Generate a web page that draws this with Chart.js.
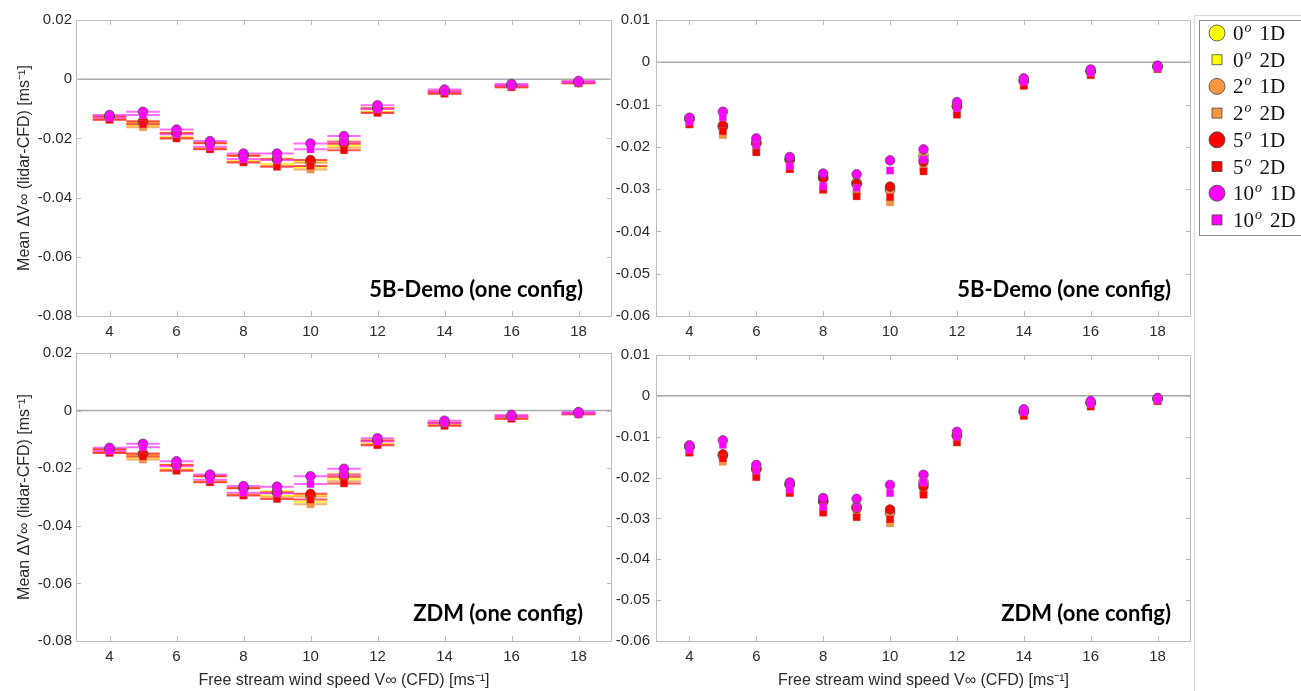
<!DOCTYPE html>
<html>
<head>
<meta charset="utf-8">
<script src="https://cdn.jsdelivr.net/npm/chart.js@4/dist/chart.umd.min.js"></script>
<style>
body{margin:0;background:#fff;width:1301px;height:691px;overflow:hidden;position:relative}
canvas{position:absolute}
</style>
</head>
<body>
<canvas id="demoMean" width="620" height="346" style="left:0;top:0"></canvas>
<canvas id="demoRight" width="691" height="346" style="left:610px;top:0"></canvas>
<canvas id="zdmMean" width="620" height="351" style="left:0;top:340px"></canvas>
<canvas id="zdmRight" width="691" height="351" style="left:610px;top:340px"></canvas>
<script>
// wind speed bins (x) and axis ticks
const windSpeeds = [4, 5, 6, 7, 8, 9, 10, 11, 12, 14, 16, 18];
const xTicks = [4, 6, 8, 10, 12, 14, 16, 18];
const yTicksLeft = [-0.08, -0.06, -0.04, -0.02, 0, 0.02];
const yTicksRight = [-0.06, -0.05, -0.04, -0.03, -0.02, -0.01, 0, 0.01];
const binHalfWidth = 0.5;

// series: yaw angle + 1D/2D
const seriesAngles = ['0', '0', '2', '2', '5', '5', '10', '10'];
const seriesKinds = ['1D', '2D', '1D', '2D', '1D', '2D', '1D', '2D'];
const seriesShapes = ['circle', 'rect', 'circle', 'rect', 'circle', 'rect', 'circle', 'rect'];
const seriesColors = ['#FFFF00', '#FFFF00', '#F8963F', '#F8963F', '#FF0000', '#FF0000', '#FF00FF', '#FF00FF'];
const barColors = ['rgba(255,240,0,0.75)', 'rgba(255,240,0,0.75)', 'rgba(248,150,63,0.75)', 'rgba(248,150,63,0.75)',
  'rgba(255,30,30,0.75)', 'rgba(255,30,30,0.75)', 'rgba(255,60,255,0.75)', 'rgba(255,60,255,0.75)'];

// 5B-Demo, mean (top left) - rows follow series order
const demoMean = [
  [-0.0125, -0.0145, -0.0181, -0.0214, -0.0257, -0.0268, -0.0279, -0.0208, -0.0097, -0.0040, -0.0020, -0.0009],
  [-0.0134, -0.0157, -0.0196, -0.0233, -0.0277, -0.0286, -0.0298, -0.0225, -0.0110, -0.0046, -0.0025, -0.0013],
  [-0.0126, -0.0147, -0.0182, -0.0215, -0.0258, -0.0270, -0.0282, -0.0213, -0.0098, -0.0041, -0.0021, -0.0009],
  [-0.0136, -0.0162, -0.0198, -0.0235, -0.0279, -0.0292, -0.0305, -0.0232, -0.0112, -0.0048, -0.0027, -0.0014],
  [-0.0126, -0.0142, -0.0183, -0.0216, -0.0259, -0.0271, -0.0273, -0.0218, -0.0099, -0.0042, -0.0021, -0.0010],
  [-0.0137, -0.0152, -0.0200, -0.0237, -0.0281, -0.0296, -0.0293, -0.0240, -0.0114, -0.0049, -0.0027, -0.0014],
  [-0.0121, -0.0110, -0.0170, -0.0209, -0.0251, -0.0251, -0.0217, -0.0192, -0.0088, -0.0035, -0.0016, -0.0006],
  [-0.0130, -0.0121, -0.0186, -0.0228, -0.0270, -0.0273, -0.0237, -0.0211, -0.0101, -0.0042, -0.0022, -0.0011]
];

// 5B-Demo (top right)
const demoRight = [
  [-0.0133, -0.0152, -0.0190, -0.0229, -0.0272, -0.0283, -0.0299, -0.0220, -0.0103, -0.0043, -0.0021, -0.0010],
  [-0.0145, -0.0166, -0.0208, -0.0250, -0.0300, -0.0305, -0.0326, -0.0242, -0.0118, -0.0052, -0.0029, -0.0015],
  [-0.0134, -0.0153, -0.0191, -0.0230, -0.0273, -0.0287, -0.0302, -0.0228, -0.0104, -0.0044, -0.0022, -0.0010],
  [-0.0146, -0.0172, -0.0210, -0.0252, -0.0302, -0.0312, -0.0331, -0.0250, -0.0122, -0.0054, -0.0031, -0.0016],
  [-0.0134, -0.0149, -0.0192, -0.0231, -0.0274, -0.0288, -0.0294, -0.0235, -0.0105, -0.0045, -0.0022, -0.0011],
  [-0.0147, -0.0163, -0.0213, -0.0253, -0.0301, -0.0317, -0.0319, -0.0258, -0.0124, -0.0056, -0.0030, -0.0016],
  [-0.0131, -0.0117, -0.0180, -0.0224, -0.0263, -0.0265, -0.0232, -0.0206, -0.0094, -0.0038, -0.0017, -0.0008],
  [-0.0141, -0.0130, -0.0196, -0.0245, -0.0293, -0.0297, -0.0256, -0.0230, -0.0108, -0.0046, -0.0025, -0.0013]
];

// ZDM, mean (bottom left)
const zdmMean = [
  [-0.0133, -0.0152, -0.0188, -0.0226, -0.0268, -0.0280, -0.0295, -0.0219, -0.0103, -0.0041, -0.0019, -0.0008],
  [-0.0144, -0.0164, -0.0203, -0.0245, -0.0290, -0.0296, -0.0317, -0.0237, -0.0116, -0.0049, -0.0026, -0.0012],
  [-0.0134, -0.0153, -0.0189, -0.0227, -0.0269, -0.0283, -0.0298, -0.0224, -0.0104, -0.0042, -0.0020, -0.0008],
  [-0.0145, -0.0170, -0.0206, -0.0247, -0.0292, -0.0301, -0.0325, -0.0245, -0.0118, -0.0051, -0.0028, -0.0013],
  [-0.0134, -0.0149, -0.0190, -0.0228, -0.0270, -0.0285, -0.0289, -0.0230, -0.0105, -0.0043, -0.0020, -0.0009],
  [-0.0147, -0.0159, -0.0209, -0.0249, -0.0295, -0.0307, -0.0309, -0.0253, -0.0120, -0.0053, -0.0028, -0.0013],
  [-0.0129, -0.0115, -0.0176, -0.0222, -0.0262, -0.0264, -0.0228, -0.0202, -0.0096, -0.0035, -0.0015, -0.0005],
  [-0.0140, -0.0127, -0.0193, -0.0240, -0.0285, -0.0287, -0.0255, -0.0222, -0.0107, -0.0044, -0.0022, -0.0011]
];

// ZDM (bottom right)
const zdmRight = [
  [-0.0124, -0.0146, -0.0178, -0.0216, -0.0257, -0.0270, -0.0284, -0.0210, -0.0096, -0.0038, -0.0017, -0.0007],
  [-0.0137, -0.0157, -0.0194, -0.0234, -0.0282, -0.0285, -0.0305, -0.0228, -0.0110, -0.0046, -0.0024, -0.0012],
  [-0.0125, -0.0147, -0.0179, -0.0217, -0.0258, -0.0273, -0.0287, -0.0216, -0.0097, -0.0039, -0.0018, -0.0007],
  [-0.0138, -0.0161, -0.0196, -0.0236, -0.0284, -0.0290, -0.0312, -0.0236, -0.0113, -0.0048, -0.0026, -0.0013],
  [-0.0125, -0.0143, -0.0180, -0.0218, -0.0259, -0.0275, -0.0278, -0.0222, -0.0098, -0.0040, -0.0018, -0.0008],
  [-0.0139, -0.0153, -0.0199, -0.0238, -0.0286, -0.0297, -0.0302, -0.0242, -0.0114, -0.0049, -0.0026, -0.0013],
  [-0.0121, -0.0109, -0.0169, -0.0212, -0.0250, -0.0252, -0.0218, -0.0193, -0.0088, -0.0033, -0.0013, -0.0005],
  [-0.0132, -0.0120, -0.0183, -0.0229, -0.0272, -0.0274, -0.0238, -0.0212, -0.0100, -0.0040, -0.0020, -0.0010]
];

const sansFamily = '"Liberation Sans", Arial, sans-serif';
const axisColor = '#2b2b2b';

// box, inward ticks, zero line, panel note, legend
const matlabAxes = {
  id: 'matlabAxes',
  beforeDatasetsDraw(chart) {
    const {ctx, chartArea: a, scales: {y}} = chart;
    const y0 = y.getPixelForValue(0);
    ctx.save();
    ctx.strokeStyle = '#a8a8a8';
    ctx.lineWidth = 1.5;
    ctx.beginPath();
    ctx.moveTo(a.left, y0);
    ctx.lineTo(a.right, y0);
    ctx.stroke();
    ctx.restore();
  },
  afterDraw(chart, args, opts) {
    const {ctx, chartArea: a, scales: {x, y}} = chart;
    ctx.save();
    ctx.strokeStyle = '#bcbcbc';
    ctx.lineWidth = 1;
    ctx.strokeRect(a.left + 0.5, a.top + 0.5, a.right - a.left - 1, a.bottom - a.top);
    ctx.beginPath();
    x.ticks.forEach(t => {
      const px = Math.round(x.getPixelForValue(t.value)) + 0.5;
      ctx.moveTo(px, a.bottom); ctx.lineTo(px, a.bottom - 5);
      ctx.moveTo(px, a.top); ctx.lineTo(px, a.top + 5);
    });
    y.ticks.forEach(t => {
      const py = Math.round(y.getPixelForValue(t.value)) + 0.5;
      ctx.moveTo(a.left, py); ctx.lineTo(a.left + 5, py);
      ctx.moveTo(a.right, py); ctx.lineTo(a.right - 5, py);
    });
    ctx.stroke();

    ctx.fillStyle = '#000';
    ctx.font = 'bold 22px Lato, "Open Sans", sans-serif';
    ctx.textAlign = 'right';
    ctx.textBaseline = 'middle';
    ctx.fillText(opts.note, a.right - opts.noteRight, a.bottom - opts.noteUp);

    if (opts.frame) {
      const f = opts.frame;
      ctx.strokeStyle = '#d6d6d6';
      ctx.lineWidth = 1;
      ctx.beginPath();
      ctx.moveTo(f.x + 0.5, f.top);
      ctx.lineTo(f.x + 0.5, chart.height);
      if (f.drawTop) {
        ctx.moveTo(f.x, f.top + 0.5);
        ctx.lineTo(chart.width, f.top + 0.5);
      }
      ctx.stroke();
    }

    if (opts.legend) {
      const L = opts.legend;
      ctx.fillStyle = '#fff';
      ctx.fillRect(L.x, L.y, L.w, L.h);
      ctx.strokeStyle = '#8a8a8a';
      ctx.strokeRect(L.x + 0.5, L.y + 0.5, L.w, L.h);
      seriesAngles.forEach((ang, i) => {
        const cy = L.rowTop + i * L.rowStep;
        ctx.fillStyle = seriesColors[i];
        ctx.strokeStyle = 'rgba(70,70,70,0.8)';
        ctx.lineWidth = 1;
        ctx.beginPath();
        if (seriesShapes[i] === 'circle') {
          ctx.arc(L.markerX, cy, 8, 0, Math.PI * 2);
        } else {
          ctx.rect(L.markerX - 5, cy - 5, 10, 10);
        }
        ctx.fill();
        ctx.stroke();
        ctx.fillStyle = '#111';
        ctx.textAlign = 'left';
        ctx.textBaseline = 'alphabetic';
        ctx.font = '21px "Liberation Serif", "DejaVu Serif", serif';
        const base = cy + 7;
        ctx.fillText(ang, L.textX, base);
        let tx = L.textX + ctx.measureText(ang).width + 1;
        ctx.font = 'italic 14px "Liberation Serif", "DejaVu Serif", serif';
        ctx.fillText('o', tx, base - 8);
        tx += ctx.measureText('o').width + 8;
        ctx.font = '21px "Liberation Serif", "DejaVu Serif", serif';
        ctx.fillText(seriesKinds[i], tx, base);
      });
    }
    ctx.restore();
  }
};

function buildDatasets(values, withBars) {
  const sets = [];
  values.forEach((row, i) => {
    const isCircle = seriesShapes[i] === 'circle';
    sets.push({
      type: 'scatter',
      data: windSpeeds.map((x, k) => ({x: x, y: row[k]})),
      pointStyle: seriesShapes[i],
      pointRadius: isCircle ? 4.8 : 5.2,
      backgroundColor: seriesColors[i],
      borderColor: isCircle ? 'rgba(70,70,70,0.75)' : 'rgba(150,150,150,0.5)',
      borderWidth: isCircle ? 0.9 : 0.6,
      order: values.length - i
    });
    if (withBars) {
      sets.push({
        type: 'line',
        data: windSpeeds.flatMap((x, k) => [
          {x: x - binHalfWidth, y: row[k]},
          {x: x + binHalfWidth, y: row[k]},
          {x: x, y: null}
        ]),
        borderColor: barColors[i],
        borderWidth: 2,
        pointRadius: 0,
        showLine: true,
        spanGaps: false,
        order: 20 + values.length - i
      });
    }
  });
  return sets;
}

function makePanel(id, values, cfg) {
  new Chart(document.getElementById(id), {
    type: 'scatter',
    data: {datasets: buildDatasets(values, cfg.bars)},
    options: {
      responsive: false,
      animation: false,
      events: [],
      layout: {padding: cfg.padding},
      plugins: {
        legend: {display: false},
        tooltip: {enabled: false},
        matlabAxes: {note: cfg.note, noteRight: cfg.noteRight, noteUp: cfg.noteUp,
          legend: cfg.legend, frame: cfg.frame}
      },
      scales: {
        x: {
          type: 'linear',
          min: 3,
          max: 19,
          grid: {display: false, drawTicks: false},
          border: {display: false},
          afterBuildTicks: s => { s.ticks = xTicks.map(v => ({value: v})); },
          afterFit: s => { s.height = cfg.xHeight; },
          ticks: {font: {family: sansFamily, size: 15}, color: axisColor, padding: 7,
            maxRotation: 0, autoSkip: false},
          title: {
            display: cfg.xTitle,
            text: 'Free stream wind speed V\u221E (CFD) [ms\u207B\u00B9]',
            font: {family: sansFamily, size: 16},
            color: axisColor,
            padding: {top: 0, bottom: 1}
          }
        },
        y: {
          min: cfg.yTicks[0],
          max: cfg.yTicks[cfg.yTicks.length - 1],
          grid: {display: false, drawTicks: false},
          border: {display: false},
          afterBuildTicks: s => { s.ticks = cfg.yTicks.map(v => ({value: v})); },
          afterFit: s => { s.width = cfg.yWidth; },
          ticks: {font: {family: sansFamily, size: 15}, color: axisColor, padding: cfg.yPad,
            callback: v => v === 0 ? '0' : v.toFixed(2)},
          title: {
            display: cfg.yTitle,
            text: 'Mean \u0394V\u221E (lidar-CFD) [ms\u207B\u00B9]',
            font: {family: sansFamily, size: 16},
            color: axisColor,
            padding: {top: 15, bottom: 0}
          }
        }
      }
    },
    plugins: [matlabAxes]
  });
}

makePanel('demoMean', demoMean, {
  bars: true, yTicks: yTicksLeft, yTitle: true, xTitle: false, yWidth: 76, xHeight: 24, yPad: 4,
  padding: {left: 0, top: 20, right: 8, bottom: 6},
  note: '5B-Demo (one config)', noteRight: 29, noteUp: 26
});
makePanel('demoRight', demoRight, {
  bars: false, yTicks: yTicksRight, yTitle: false, xTitle: false, yWidth: 46, xHeight: 24, yPad: 6,
  padding: {left: 0, top: 20, right: 110, bottom: 6},
  note: '5B-Demo (one config)', noteRight: 20, noteUp: 26,
  frame: {x: 584, top: 15, drawTop: true},
  legend: {x: 589, y: 20, w: 120, h: 215, rowTop: 33, rowStep: 26.7, markerX: 607, textX: 623}
});
makePanel('zdmMean', zdmMean, {
  bars: true, yTicks: yTicksLeft, yTitle: true, xTitle: true, yWidth: 76, xHeight: 50, yPad: 4,
  padding: {left: 0, top: 6, right: 8, bottom: 0},
  note: 'ZDM (one config)', noteRight: 29, noteUp: 27
});
makePanel('zdmRight', zdmRight, {
  bars: false, yTicks: yTicksRight, yTitle: false, xTitle: true, yWidth: 46, xHeight: 50, yPad: 6,
  padding: {left: 0, top: 6, right: 110, bottom: 0},
  note: 'ZDM (one config)', noteRight: 20, noteUp: 27,
  frame: {x: 584, top: 0, drawTop: false}
});
</script>
</body>
</html>
